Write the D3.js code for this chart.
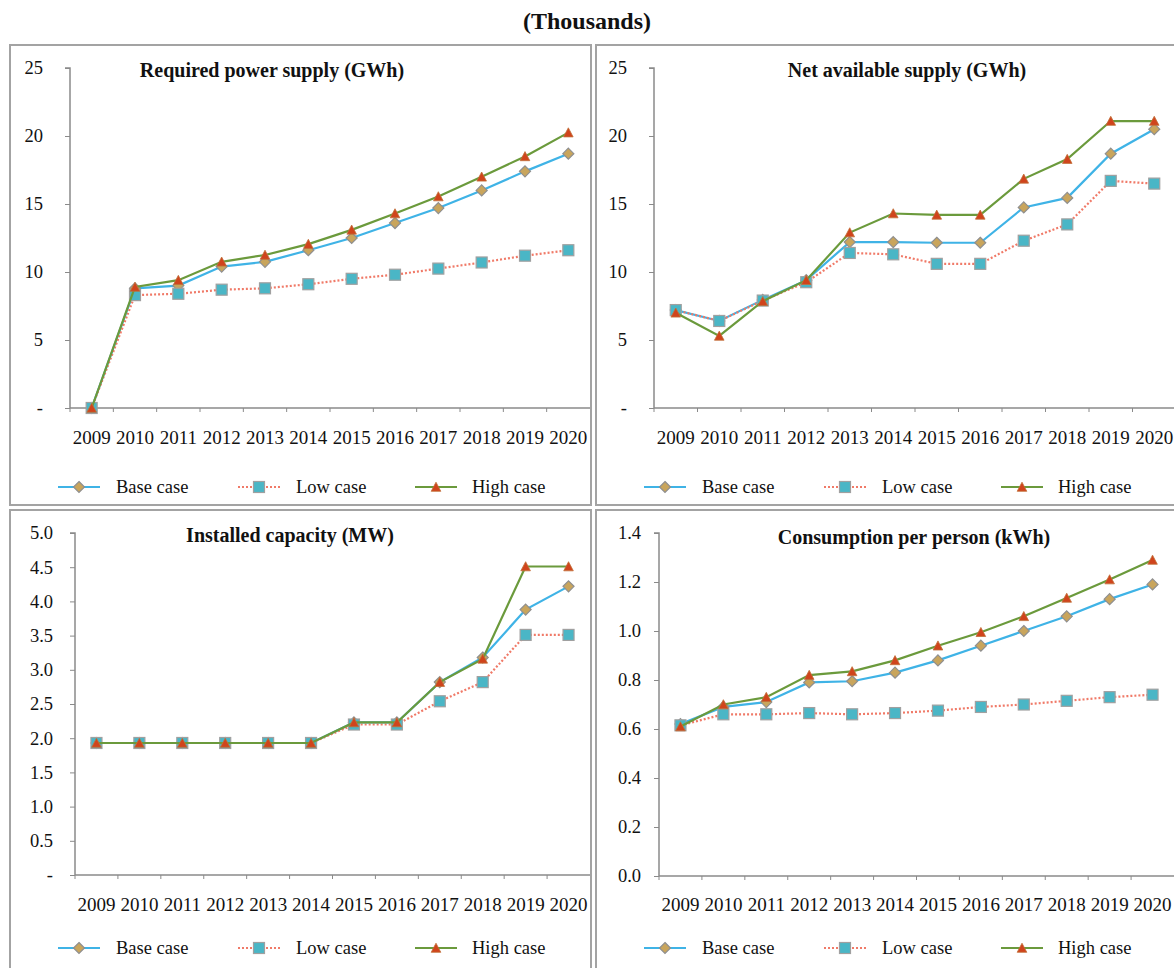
<!DOCTYPE html>
<html><head><meta charset="utf-8">
<script src="https://cdn.jsdelivr.net/npm/d3@7"></script>
<style>
html,body{margin:0;padding:0;background:#fff;}
svg{display:block;}
text{font-family:"Liberation Serif","Times New Roman",serif;}
</style></head>
<body>
<svg id="chart" width="1174" height="968"></svg>
<script>
// ---------- data ----------
const years = ["2009","2010","2011","2012","2013","2014","2015","2016","2017","2018","2019","2020"];
const seriesNames = ["Base case","Low case","High case"];

const reqBase = [0, 8.8, 9.0, 10.4, 10.75, 11.6, 12.5, 13.6, 14.7, 16.0, 17.4, 18.7];
const reqLow  = [0, 8.3, 8.4, 8.7, 8.8, 9.1, 9.5, 9.8, 10.25, 10.7, 11.2, 11.6];
const reqHigh = [0, 8.9, 9.4, 10.75, 11.25, 12.05, 13.1, 14.3, 15.55, 17.0, 18.5, 20.25];

const netBase = [7.2, 6.4, 7.95, 9.4, 12.2, 12.2, 12.15, 12.15, 14.75, 15.45, 18.7, 20.5];
const netLow  = [7.2, 6.4, 7.9, 9.25, 11.4, 11.3, 10.6, 10.6, 12.3, 13.5, 16.7, 16.5];
const netHigh = [7.0, 5.3, 7.85, 9.4, 12.9, 14.3, 14.2, 14.2, 16.85, 18.3, 21.1, 21.1];

const capBase = [1.93, 1.93, 1.93, 1.93, 1.93, 1.93, 2.23, 2.23, 2.82, 3.18, 3.88, 4.22];
const capLow  = [1.93, 1.93, 1.93, 1.93, 1.93, 1.93, 2.2, 2.2, 2.54, 2.82, 3.51, 3.51];
const capHigh = [1.93, 1.93, 1.93, 1.93, 1.93, 1.93, 2.23, 2.23, 2.82, 3.16, 4.51, 4.51];

const conBase = [0.62, 0.69, 0.71, 0.79, 0.795, 0.83, 0.88, 0.94, 1.0, 1.06, 1.13, 1.19];
const conLow  = [0.615, 0.66, 0.66, 0.665, 0.66, 0.665, 0.675, 0.69, 0.70, 0.715, 0.73, 0.74];
const conHigh = [0.61, 0.70, 0.73, 0.82, 0.835, 0.88, 0.94, 0.995, 1.06, 1.135, 1.21, 1.29];

const gwhTicks = [0, 5, 10, 15, 20, 25];
const gwhTickLabels = ["-", "5", "10", "15", "20", "25"];
const capTicks = [0, 0.5, 1.0, 1.5, 2.0, 2.5, 3.0, 3.5, 4.0, 4.5, 5.0];
const capTickLabels = ["-", "0.5", "1.0", "1.5", "2.0", "2.5", "3.0", "3.5", "4.0", "4.5", "5.0"];
const conTicks = [0, 0.2, 0.4, 0.6, 0.8, 1.0, 1.2, 1.4];
const conTickLabels = ["0.0", "0.2", "0.4", "0.6", "0.8", "1.0", "1.2", "1.4"];

const mainTitle = "(Thousands)";

// ---------- styles ----------
const styles = [
  {line:"#3fb3e6", dash:null, marker:"diamond", fill:"#c9a55c", stroke:"#8f8f8f"},
  {line:"#f07a68", dash:"2,2", marker:"square", fill:"#4ab6c6", stroke:"#a0a0a0"},
  {line:"#6b9a3c", dash:null, marker:"triangle", fill:"#d0441c", stroke:"#c0703a"}
];

const panels = [
  {title:"Required power supply (GWh)", data:[reqBase,reqLow,reqHigh], ticks:gwhTicks, labels:gwhTickLabels, max:25,
   box:[10,45,591,505], plot:[70,590,68,408], titleX:272, titleY:77, xLabY:444, legY:487, yLabDx:-27},
  {title:"Net available supply (GWh)", data:[netBase,netLow,netHigh], ticks:gwhTicks, labels:gwhTickLabels, max:25,
   box:[596,45,1180,505], plot:[654,1176,68,408], titleX:907, titleY:77, xLabY:444, legY:487, yLabDx:-27},
  {title:"Installed capacity (MW)", data:[capBase,capLow,capHigh], ticks:capTicks, labels:capTickLabels, max:5,
   box:[10,510,591,975], plot:[75,590,533,875], titleX:290, titleY:542, xLabY:911, legY:948, yLabDx:-22},
  {title:"Consumption per person (kWh)", data:[conBase,conLow,conHigh], ticks:conTicks, labels:conTickLabels, max:1.4,
   box:[596,510,1180,975], plot:[659,1174,533,876], titleX:914, titleY:544, xLabY:911, legY:948, yLabDx:-18}
];

const svg = d3.select("#chart");

svg.append("text").attr("x", 587).attr("y", 29).attr("text-anchor","middle")
  .attr("font-size", 24).attr("font-weight","bold").attr("fill","#111").text(mainTitle);

function drawMarker(g, type, x, y, st){
  if(type==="diamond"){
    const r = 5.5;
    g.append("path").attr("d", `M${x},${y-r}L${x+r},${y}L${x},${y+r}L${x-r},${y}Z`)
      .attr("fill",st.fill).attr("stroke",st.stroke).attr("stroke-width",1.2);
  } else if(type==="square"){
    g.append("rect").attr("x",x-5.5).attr("y",y-5.5).attr("width",11).attr("height",11)
      .attr("fill",st.fill).attr("stroke",st.stroke).attr("stroke-width",1.2);
  } else {
    const h = 4.8;
    g.append("path").attr("d", `M${x},${y-h}L${x+h},${y+h-0.5}L${x-h},${y+h-0.5}Z`)
      .attr("fill",st.fill).attr("stroke",st.stroke).attr("stroke-width",0.8);
  }
}

panels.forEach(p => {
  const [bx0,by0,bx1,by1] = p.box;
  const [px0,px1,py0,py1] = p.plot;
  const g = svg.append("g");
  g.append("rect").attr("x",bx0).attr("y",by0).attr("width",bx1-bx0).attr("height",by1-by0)
    .attr("fill","none").attr("stroke","#a3a3a3").attr("stroke-width",2);

  const x = d3.scaleBand().domain(years).range([px0,px1]).paddingInner(0).paddingOuter(0);
  const y = d3.scaleLinear().domain([0,p.max]).range([py1,py0]);

  // y axis
  const yAxis = d3.axisLeft(y).tickValues(p.ticks).tickSize(5).tickFormat((d,i)=>p.labels[i]);
  const ya = g.append("g").attr("transform",`translate(${px0},0)`).call(yAxis);
  ya.select(".domain").attr("stroke","#8a8a8a").attr("stroke-width",1.5).attr("d",`M-5,${py0}H0V${py1}`);
  ya.selectAll(".tick line").attr("stroke","#8a8a8a");
  ya.selectAll(".tick text").attr("font-size",18.5).attr("fill","#111").attr("x",p.yLabDx)
    .attr("font-family","Liberation Serif, serif");

  // x axis
  const xAxis = d3.axisBottom(x).tickSize(0).tickFormat(d=>d);
  const xa = g.append("g").attr("transform",`translate(0,${py1})`).call(xAxis);
  xa.select(".domain").attr("stroke","#8a8a8a").attr("stroke-width",1.5).attr("d",`M${px0},0H${px1}`);
  xa.selectAll(".tick text").attr("font-size",19).attr("fill","#111").attr("y", p.xLabY - py1).attr("dy",0)
    .attr("font-family","Liberation Serif, serif");
  // band boundary ticks
  g.selectAll(null).data(years).enter().append("line")
    .attr("x1",d=>x(d)).attr("x2",d=>x(d)).attr("y1",py1).attr("y2",py1+4)
    .attr("stroke","#8a8a8a").attr("stroke-width",1);

  // title
  g.append("text").attr("x",p.titleX).attr("y",p.titleY).attr("text-anchor","middle")
    .attr("font-size",20).attr("font-weight","bold").attr("fill","#111").text(p.title);

  // series
  const cx = d => x(d) + x.bandwidth()/2;
  p.data.forEach((vals, si) => {
    const st = styles[si];
    const line = d3.line().x((v,i)=>cx(years[i])).y(v=>y(v));
    g.append("path").datum(vals).attr("d",line).attr("fill","none")
      .attr("stroke",st.line).attr("stroke-width",2.2).attr("stroke-dasharray",st.dash);
    vals.forEach((v,i)=> drawMarker(g, st.marker, cx(years[i]), y(v), st));
  });

  // legend
  const legX = [[58,100,79,116],[238,280,259,296],[415,457,436,472]];
  const off = bx0 - 10;
  seriesNames.forEach((name, si) => {
    const st = styles[si];
    const [l0,l1,m,t] = legX[si];
    g.append("line").attr("x1",l0+off).attr("x2",l1+off).attr("y1",p.legY).attr("y2",p.legY)
      .attr("stroke",st.line).attr("stroke-width",2).attr("stroke-dasharray",st.dash);
    drawMarker(g, st.marker, m+off, p.legY, st);
    g.append("text").attr("x",t+off).attr("y",p.legY+6).attr("font-size",18.5).attr("fill","#111").text(name);
  });
});
</script>
</body></html>
